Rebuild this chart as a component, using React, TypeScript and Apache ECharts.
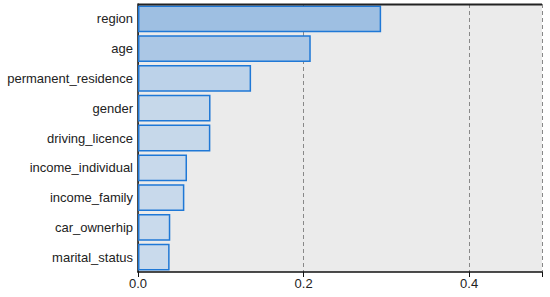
import React, { useEffect, useRef } from "react";
import * as echarts from "echarts";

const categories = [
  "region",
  "age",
  "permanent_residence",
  "gender",
  "driving_licence",
  "income_individual",
  "income_family",
  "car_ownerhip",
  "marital_status",
];
const importance = [0.2937, 0.2087, 0.1366, 0.0876, 0.0874, 0.0592, 0.056, 0.039, 0.0382];
const xTicks = [0, 0.2, 0.4];
const barFills = [
  "#9ebfe2",
  "#abc7e5",
  "#bcd2e9",
  "#c6d8ea",
  "#c6d8ea",
  "#c8d9eb",
  "#c8d9eb",
  "#c9daec",
  "#c9daec",
];

const GRID = { left: 138, right: 8, top: 4, bottom: 25 };
const W = 550;

export default function App() {
  const ref = useRef<HTMLDivElement>(null);
  useEffect(() => {
    if (!ref.current) return;
    const chart = echarts.init(ref.current, null, { renderer: "svg" });
    chart.setOption({
      animation: false,
      textStyle: { fontFamily: "Liberation Sans, Arial, sans-serif" },
      grid: {
        ...GRID,
        show: true,
        backgroundColor: "#ebebeb",
        borderWidth: 0,
      },
      graphic: [
        {
          type: "line",
          z: 100,
          shape: { x1: GRID.left, y1: GRID.top + 0.5, x2: W - GRID.right, y2: GRID.top + 0.5 },
          style: { stroke: "#222", lineWidth: 2 },
        },
      ],
      xAxis: {
        type: "value",
        min: 0,
        max: 0.488,
        interval: 0.2,
        axisLine: { show: true, onZero: false, lineStyle: { color: "#111", width: 1.5 } },
        axisTick: { show: true, length: 5, lineStyle: { color: "#111" } },
        axisLabel: {
          color: "#222",
          fontSize: 13,
          margin: 5,
          formatter: (v: number) => (xTicks.some((t) => Math.abs(t - v) < 1e-9) ? v.toFixed(1) : ""),
        },
        splitLine: { show: true, lineStyle: { color: "#888", type: [4, 3], width: 1 } },
      },
      yAxis: {
        type: "category",
        inverse: true,
        data: categories,
        axisLine: { show: true, onZero: false, lineStyle: { color: "#111", width: 1.5 } },
        axisTick: { show: false },
        axisLabel: { color: "#222", fontSize: 13, margin: 5, padding: [5, 0, 0, 0] },
        splitLine: { show: false },
      },
      series: [
        {
          type: "bar",
          barCategoryGap: "10%",
          data: importance.map((v, i) => ({
            value: v,
            itemStyle: { color: barFills[i], borderColor: "#1f78d6", borderWidth: 1.5 },
          })),
        },
      ],
    });
    return () => chart.dispose();
  }, []);
  return (
    <div
      ref={ref}
      style={{ position: "absolute", left: 0, top: 0, width: 550, height: 297 }}
    />
  );
}
